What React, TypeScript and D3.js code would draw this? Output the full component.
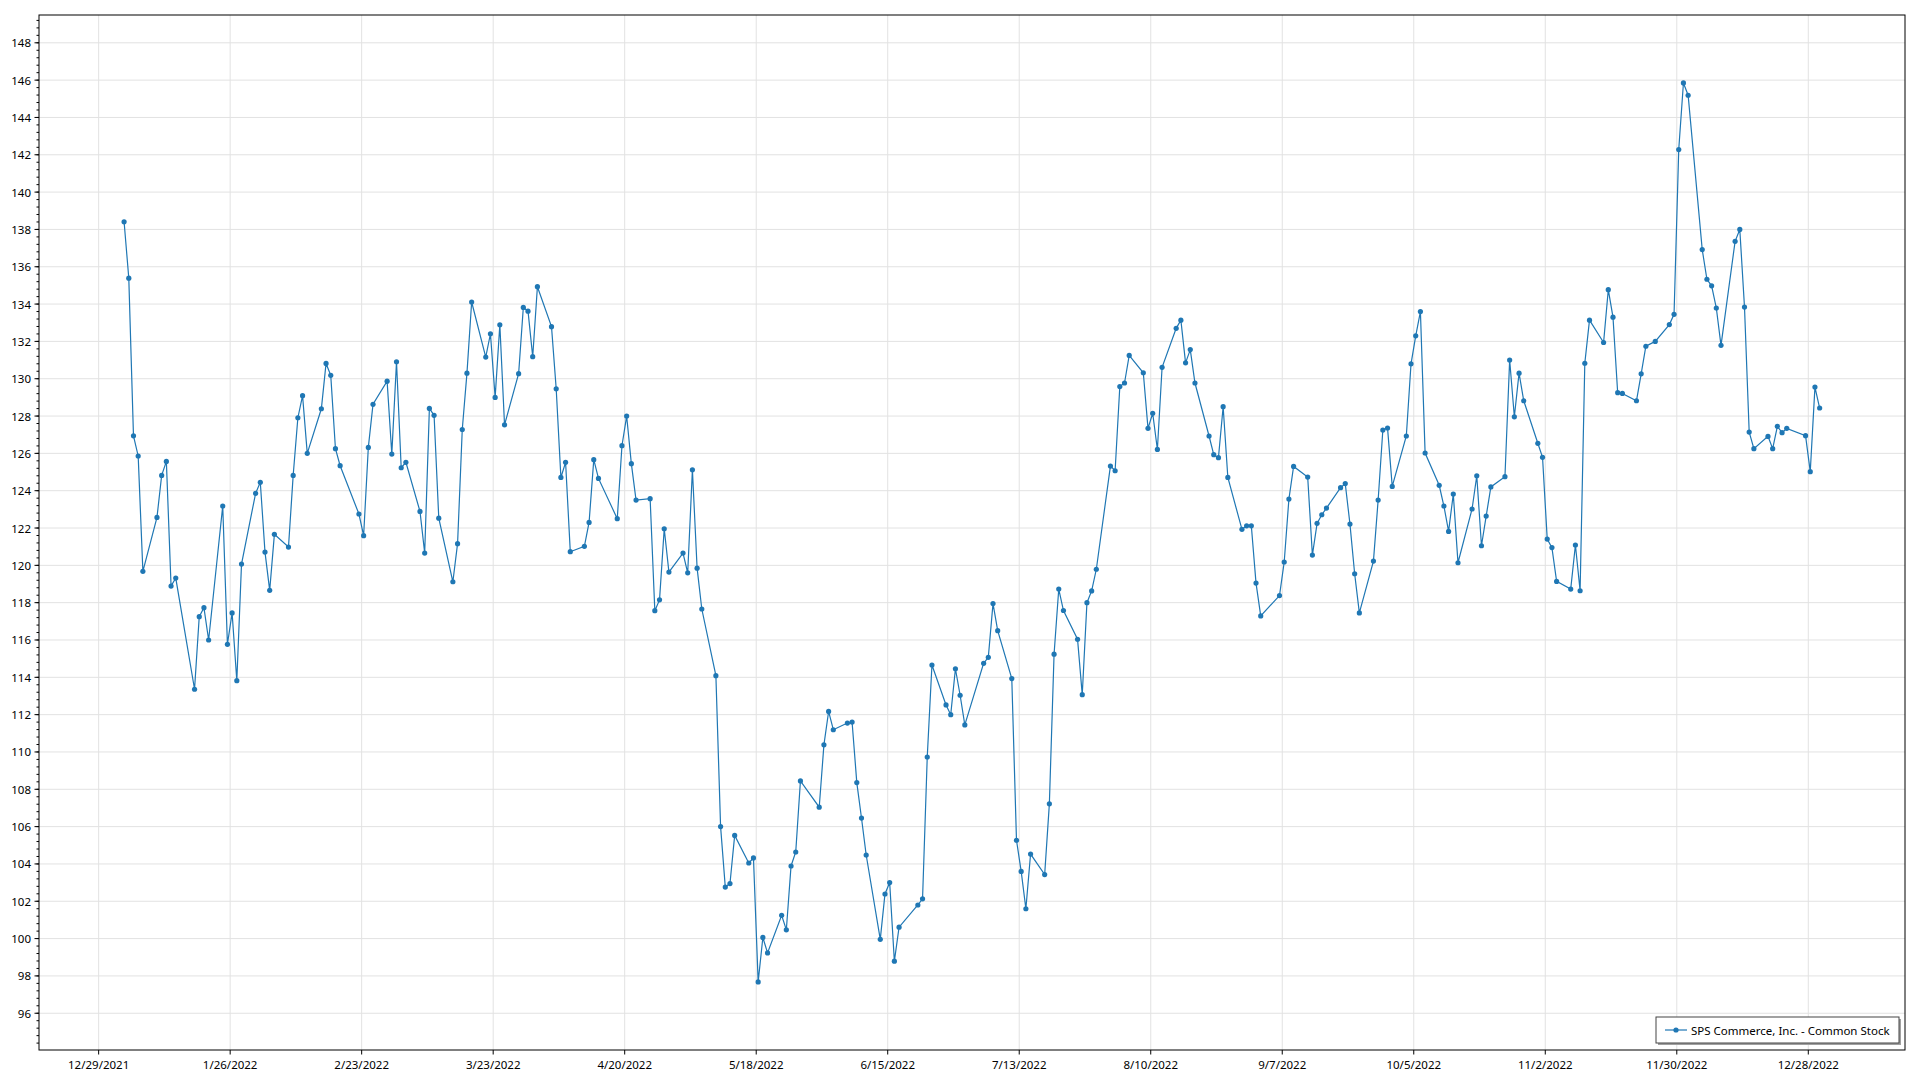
import React from "react";
import * as d3 from "d3";

// daily closes, one array per month (trading days only)
const jan = [138.41, 135.39, 126.94, 125.86, 119.68, 122.57, 124.82, 125.57, 118.89, 119.32, 113.36, 117.25, 117.73, 116.0, 123.18, 115.77, 117.45, 113.82, 120.07, 123.86];
const feb = [124.45, 120.71, 118.66, 121.66, 120.98, 124.82, 127.91, 129.09, 126.0, 128.39, 130.82, 130.18, 126.25, 125.34, 122.75, 121.59, 126.32, 128.63, 129.87];
const mar = [125.96, 130.91, 125.23, 125.52, 122.89, 120.66, 128.41, 128.04, 122.53, 119.12, 121.16, 127.28, 130.3, 134.11, 131.16, 132.41, 129.0, 132.89, 127.53, 130.27, 133.82, 133.62, 131.18];
const apr = [134.93, 132.79, 129.46, 124.71, 125.52, 120.73, 121.02, 122.3, 125.66, 124.66, 122.5, 126.41, 128.0, 125.45, 123.5, 123.57, 117.57, 118.15, 121.96, 119.64];
const may = [120.66, 119.6, 125.12, 119.85, 117.66, 114.09, 106.0, 102.76, 102.95, 105.53, 104.05, 104.32, 97.68, 100.06, 99.23, 101.25, 100.47, 103.89, 104.64, 108.45, 107.04];
const jun = [110.38, 112.17, 111.19, 111.55, 111.6, 108.36, 106.46, 104.48, 99.96, 102.39, 103.0, 98.79, 100.61, 101.8, 102.13, 109.73, 114.66, 112.52, 112.0, 114.46, 113.04];
const jul = [111.45, 114.75, 115.07, 117.95, 116.5, 113.93, 105.27, 103.6, 101.6, 104.53, 103.43, 107.22, 115.24, 118.73, 117.58, 116.04, 113.07, 118.0, 118.63, 119.79];
const aug = [125.32, 125.07, 129.58, 129.77, 131.25, 130.32, 127.34, 128.15, 126.21, 130.61, 132.7, 133.14, 130.85, 131.56, 129.77, 126.93, 125.93, 125.77, 128.5, 124.71, 121.93, 122.12, 122.12];
const sep = [119.05, 117.29, 118.38, 120.18, 123.55, 125.3, 124.73, 120.55, 122.25, 122.71, 123.07, 124.16, 124.38, 122.21, 119.55, 117.45, 120.23, 123.5, 127.25, 127.36, 124.23];
const oct = [126.93, 130.8, 132.3, 133.6, 126.02, 124.29, 123.18, 121.82, 123.82, 120.14, 123.02, 124.8, 121.05, 122.64, 124.2, 124.75, 131.0, 127.96, 130.3, 128.82, 126.54];
const nov = [125.79, 121.41, 120.95, 119.14, 118.73, 121.09, 118.64, 130.83, 133.14, 131.94, 134.77, 133.3, 129.25, 129.21, 128.82, 130.26, 131.74, 132.0, 132.9, 133.45, 142.28];
const dec = [145.85, 145.19, 136.92, 135.33, 134.98, 133.79, 131.79, 137.36, 138.0, 133.84, 127.14, 126.25, 126.91, 126.25, 127.45, 127.11, 127.34, 126.95, 125.02, 129.55, 128.43];

const months = [jan, feb, mar, apr, may, jun, jul, aug, sep, oct, nov, dec];
const holidays = ["2022-01-17", "2022-02-21", "2022-04-15", "2022-05-30", "2022-06-20", "2022-07-04", "2022-09-05", "2022-11-24", "2022-12-26"];

const seriesName = "SPS Commerce, Inc. - Common Stock";
const yTicks = d3.range(96, 149, 2);
const yMinor = d3.range(94.4, 149.4, 0.4);
const firstTick = Date.UTC(2021, 11, 29);
const DAY = 86400000;
const xTicks = d3.range(0, 14).map((i) => new Date(firstTick + i * 28 * DAY));

// build the trading-day calendar and pair it with the closes
const fmtIso = d3.utcFormat("%Y-%m-%d");
type Pt = { date: Date; close: number };
const points: Pt[] = [];
months.forEach((vals, m) => {
  const days = d3.utcDay
    .range(new Date(Date.UTC(2022, m, 1)), new Date(Date.UTC(2022, m + 1, 1)))
    .filter((d) => d.getUTCDay() !== 0 && d.getUTCDay() !== 6 && !holidays.includes(fmtIso(d)));
  vals.forEach((v, i) => {
    if (days[i]) points.push({ date: new Date(days[i].getTime() + 10 * 3600000), close: v });
  });
});

const W = 1920;
const H = 1080;
const margin = { top: 15, right: 15, bottom: 30, left: 39 };
const font = "'Segoe UI', 'Noto Sans', 'Open Sans', sans-serif";
const blue = "#1f77b4";

export default function App() {
  const x = d3
    .scaleUtc()
    .domain([new Date(firstTick - 12.7 * DAY), new Date(firstTick + (364 + 20.59) * DAY)])
    .range([margin.left, W - margin.right]);
  const y = d3
    .scaleLinear()
    .domain([94.03, 149.49])
    .range([H - margin.bottom, margin.top]);

  const line = d3
    .line<Pt>()
    .x((d) => x(d.date))
    .y((d) => y(d.close));

  const fmt = d3.utcFormat("%-m/%-d/%Y");
  const x0 = margin.left;
  const x1 = W - margin.right;
  const y0 = H - margin.bottom;
  const y1 = margin.top;

  return (
    <div style={{ position: "absolute", left: 0, top: 0 }}>
      <svg width={W} height={H} style={{ display: "block", background: "#fff" }} fontFamily={font} fontSize={11.5}>
        {/* grid */}
        {yTicks.map((t) => (
          <line key={"gy" + t} x1={x0} x2={x1} y1={y(t)} y2={y(t)} stroke="#e2e2e2" strokeWidth={1} />
        ))}
        {xTicks.map((t) => (
          <line key={"gx" + t.getTime()} x1={x(t)} x2={x(t)} y1={y1} y2={y0} stroke="#e2e2e2" strokeWidth={1} />
        ))}

        {/* frame */}
        <rect x={x0} y={y1} width={x1 - x0} height={y0 - y1} fill="none" stroke="#000" strokeWidth={1} />

        {/* y axis */}
        {yMinor.map((t) => (
          <line key={"my" + t} x1={x0 - 2.5} x2={x0} y1={y(t)} y2={y(t)} stroke="#000" />
        ))}
        {yTicks.map((t) => (
          <g key={"ty" + t}>
            <line x1={x0 - 4.5} x2={x0} y1={y(t)} y2={y(t)} stroke="#000" />
            <text x={x0 - 8} y={y(t)} textAnchor="end" dominantBaseline="central" fill="#000">
              {t}
            </text>
          </g>
        ))}

        {/* x axis */}
        {xTicks.map((t) => (
          <g key={"tx" + t.getTime()}>
            <line x1={x(t)} x2={x(t)} y1={y0} y2={y0 + 4.5} stroke="#000" />
            <text x={x(t)} y={y0 + 14} textAnchor="middle" dominantBaseline="central" fill="#000">
              {fmt(t)}
            </text>
          </g>
        ))}

        {/* series */}
        <path d={line(points) || ""} fill="none" stroke={blue} strokeWidth={1.2} />
        {points.map((p, i) => (
          <circle key={i} cx={x(p.date)} cy={y(p.close)} r={2.6} fill={blue} />
        ))}

        {/* legend */}
        <g transform="translate(1656,1017)">
          <rect x={2} y={2} width={243} height={26} fill="#a0a0a0" />
          <rect x={0} y={0} width={243} height={26} fill="#fff" stroke="#444" strokeWidth={1} />
          <line x1={9} x2={31} y1={13} y2={13} stroke={blue} strokeWidth={1.2} />
          <circle cx={20} cy={13} r={2.6} fill={blue} />
          <text x={35} y={13} dominantBaseline="central" fill="#000">
            {seriesName}
          </text>
        </g>
      </svg>
    </div>
  );
}
